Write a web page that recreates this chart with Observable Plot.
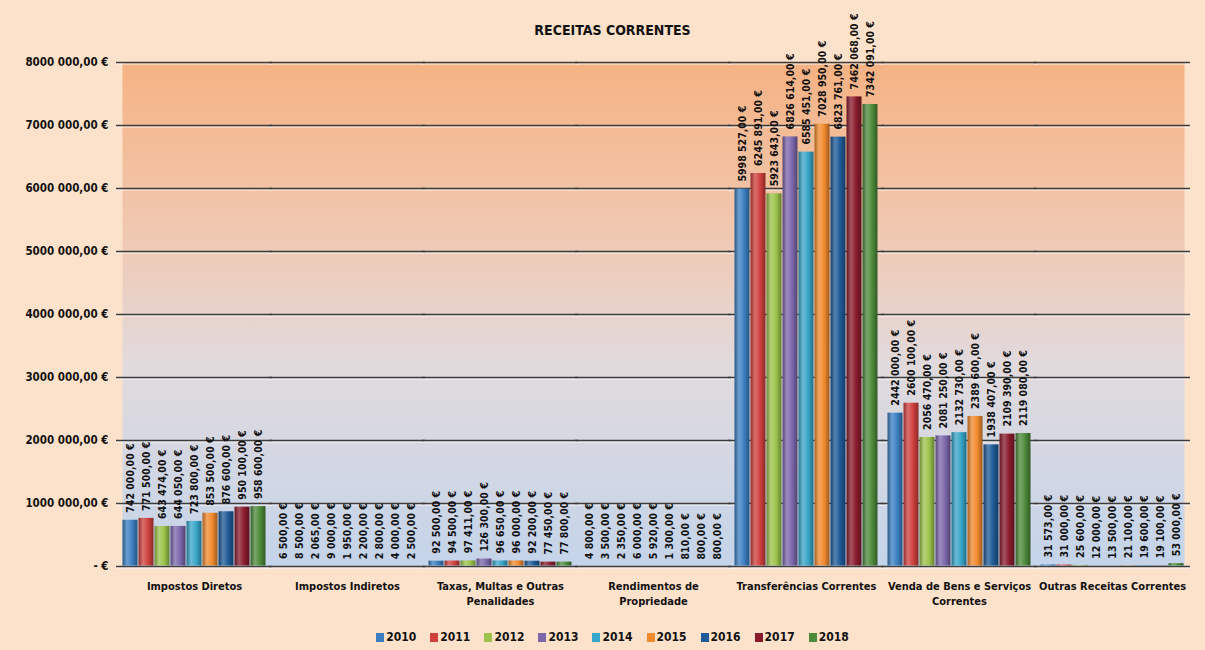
<!DOCTYPE html>
<html><head><meta charset="utf-8">
<script src="https://cdn.jsdelivr.net/npm/d3@7"></script>
<script src="https://cdn.jsdelivr.net/npm/@observablehq/plot@0.6"></script>
<style>
html,body{margin:0;padding:0;}
body{width:1205px;height:650px;background:#fde2cb;font-family:"DejaVu Sans Condensed",sans-serif;font-weight:bold;overflow:hidden;color:#111;}
#title{height:40px;box-sizing:border-box;padding-top:22px;text-align:center;font-size:14px;line-height:16px;padding-left:20px;}
#legend{height:35px;box-sizing:border-box;padding-top:9px;display:flex;justify-content:center;font-size:12px;line-height:14px;padding-left:20px;}
.li{display:flex;align-items:center;margin:0 7px;}
.sw{width:8px;height:9px;margin-right:2px;}
svg{display:block;}
</style></head>
<body>
<div id="title">RECEITAS CORRENTES</div>
<div id="chart"></div>
<div id="legend"></div>
<script>
const categories = ["Impostos Diretos","Impostos Indiretos","Taxas, Multas e Outras Penalidades","Rendimentos de Propriedade","Transferências Correntes","Venda de Bens e Serviços Correntes","Outras Receitas Correntes"];
const categoryLabels = ["Impostos Diretos","Impostos Indiretos","Taxas, Multas e Outras\nPenalidades","Rendimentos de\nPropriedade","Transferências Correntes","Venda de Bens e Serviços\nCorrentes","Outras Receitas Correntes"];
const years = ["2010","2011","2012","2013","2014","2015","2016","2017","2018"];
const v2010 = [742000, 6500, 92500, 4800, 5998527, 2442000, 31573];
const v2011 = [771500, 8500, 94500, 3500, 6245891, 2600100, 31000];
const v2012 = [643474, 2065, 97411, 2350, 5923643, 2056470, 25600];
const v2013 = [644050, 9000, 126300, 6000, 6826614, 2081250, 12000];
const v2014 = [723800, 1950, 96650, 5920, 6585451, 2132730, 13500];
const v2015 = [853500, 2200, 96000, 1300, 7028950, 2389600, 21100];
const v2016 = [876600, 2800, 92200, 810, 6823761, 1938407, 19600];
const v2017 = [950100, 4000, 77450, 800, 7462068, 2109390, 19100];
const v2018 = [958600, 2500, 77800, 800, 7342091, 2119080, 53000];
const series = [v2010,v2011,v2012,v2013,v2014,v2015,v2016,v2017,v2018];
const yTicks = [0,1000000,2000000,3000000,4000000,5000000,6000000,7000000,8000000];
const yTickLabels = ["- €","1000 000,00 €","2000 000,00 €","3000 000,00 €","4000 000,00 €","5000 000,00 €","6000 000,00 €","7000 000,00 €","8000 000,00 €"];
const colors = ["#3b7fc2","#cf403d","#9cc34b","#7c67ab","#38a6c8","#f28a2e","#1f5a97","#8a1b2c","#4d8a3a"];

const data = [];
years.forEach((y, yi) => categories.forEach((c, ci) => data.push({cat: c, year: y, value: series[yi][ci]})));

function eur(v){
  const i = Math.round(v);
  const th = Math.floor(i/1000), r = i % 1000;
  const s = th > 0 ? th + " " + String(r).padStart(3,"0") : String(r);
  return s + ",00 €";
}

const FONT = '"DejaVu Sans Condensed",sans-serif';
const chart = Plot.plot({
  width: 1205, height: 575,
  marginTop: 22, marginBottom: 49, marginLeft: 118, marginRight: 17,
  style: {fontFamily: FONT, background: "transparent", color: "#111", overflow: "visible"},
  fx: {domain: categories, paddingInner: 0.06, paddingOuter: 0.01},
  x: {domain: years, padding: 0, axis: null},
  y: {domain: [0, 8000000]},
  color: {domain: years, range: years.map(y => `url(#g${y})`)},
  marks: [
    Plot.frame({fill: "url(#bgGrad)", stroke: "none", facet: "super"}),
    Plot.ruleY(yTicks, {stroke: "#ffffff", strokeWidth: 1.2, dy: 1.5, strokeOpacity: 0.8, insetLeft: -6, insetRight: -6}),
    Plot.ruleY(yTicks, {stroke: "#3c3c3c", strokeWidth: 1.3, insetLeft: -6, insetRight: -6}),
    Plot.barY(data, {fx: "cat", x: "year", y: "value", fill: "year", inset: 0.5}),
    Plot.text(data, {fx: "cat", x: "year", y: "value", text: d => eur(d.value), rotate: -90, textAnchor: "start", dy: -7, fontSize: 10.5, fontWeight: "bold", fill: "#111"}),
    Plot.axisY(yTicks, {tickFormat: d => yTickLabels[yTicks.indexOf(d)], tickSize: 0, tickPadding: 14, fontSize: 11.5, fontWeight: "bold", label: null}),
    Plot.axisFx({anchor: "bottom", tickFormat: d => categoryLabels[categories.indexOf(d)], tickSize: 0, tickPadding: 13, fontSize: 11, fontWeight: "bold", lineHeight: 1.35, label: null})
  ]
});

function mix(c, t, a){ const x = d3.rgb(c), y = d3.rgb(t); return d3.rgb(x.r+(y.r-x.r)*a, x.g+(y.g-x.g)*a, x.b+(y.b-x.b)*a).formatHex(); }
let defs = `<defs><linearGradient id="bgGrad" x1="0" y1="0" x2="0" y2="1">
<stop offset="0" stop-color="#f6b283"/><stop offset="0.35" stop-color="#f0c9b3"/><stop offset="0.6" stop-color="#e1dadd"/><stop offset="1" stop-color="#c4d4ea"/></linearGradient>`;
years.forEach((y, i) => {
  const c = colors[i];
  defs += `<linearGradient id="g${y}" x1="0" y1="0" x2="1" y2="0">
<stop offset="0" stop-color="${mix(c,'#000',0.3)}"/><stop offset="0.3" stop-color="${mix(c,'#fff',0.25)}"/><stop offset="0.65" stop-color="${c}"/><stop offset="1" stop-color="${mix(c,'#000',0.35)}"/></linearGradient>`;
});
defs += `</defs>`;
chart.insertAdjacentHTML("afterbegin", defs);
document.getElementById("chart").appendChild(chart);

const lg = document.getElementById("legend");
years.forEach((y, i) => {
  const it = document.createElement("div"); it.className = "li";
  const sw = document.createElement("div"); sw.className = "sw"; sw.style.background = colors[i];
  const t = document.createElement("span"); t.textContent = y;
  it.appendChild(sw); it.appendChild(t); lg.appendChild(it);
});
</script>
</body></html>
